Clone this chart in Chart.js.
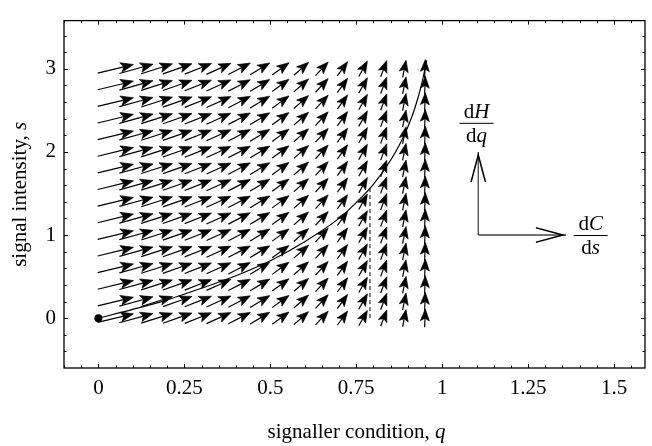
<!DOCTYPE html>
<html><head><meta charset="utf-8">
<script src="https://cdn.jsdelivr.net/npm/chart.js@4.4.1/dist/chart.umd.min.js"></script>
<style>html,body{margin:0;padding:0;background:#fff}#wrap{width:652px;height:446px;position:relative}canvas{display:block}</style>
</head><body><div id="wrap"><canvas id="c" width="652" height="446" style="width:652px;height:446px"></canvas></div>
<script>
// ---- data ----
// vector-field sample columns (signaller condition q) and rows (signal intensity s)
const fieldQ = [0.05,0.11,0.17,0.23,0.29,0.35,0.41,0.47,0.53,0.59,0.65,0.71,0.77,0.83,0.89,0.95];
const fieldS = [0,0.2,0.4,0.6,0.8,1.0,1.2,1.4,1.6,1.8,2.0,2.2,2.4,2.6,2.8,3.0];
// arrow components per column: along q (dC/ds) and along s (dH/dq), in axis units
const fieldU = [0.104,0.098,0.091,0.085,0.078,0.071,0.064,0.057,0.049,0.043,0.037,0.030,0.025,0.018,0.010,0.002];
const fieldV = [0.104,0.112,0.119,0.123,0.127,0.133,0.137,0.142,0.147,0.156,0.164,0.171,0.185,0.197,0.206,0.221];
// equilibrium signalling curve
const curveQ = [0,0.1,0.2,0.3,0.4,0.5,0.6,0.7,0.75,0.8,0.85,0.88,0.9,0.92,0.94,0.955];
const curveS = [0,0.105,0.22,0.36,0.51,0.69,0.92,1.2,1.39,1.61,1.9,2.12,2.3,2.52,2.81,3.1];
// dashed threshold line
const thresholdQ = [0.79,0.79];
const thresholdS = [0,1.56];
// starting point
const startQ = [0];
const startS = [0];
// key arrows (dH/dq up, dC/ds right)
const keyCornerQ = 1.105, keyCornerS = 1.0, keyUpS = 2.0, keyRightQ = 1.36;
// axis ticks
const xTicks = [0,0.25,0.5,0.75,1,1.25,1.5];
const xTickLabels = ["0","0.25","0.5","0.75","1","1.25","1.5"];
const yTicks = [0,1,2,3];
const yTickLabels = ["0","1","2","3"];
const xRange = [-0.1,1.59], yRange = [-0.6,3.58];
const xMinorStep = 0.05, yMinorStep = 0.2;

const FONT = "'Liberation Serif','Times New Roman',serif";

// build field points
const fieldPts = [];
fieldS.forEach(s => fieldQ.forEach((q,i) => fieldPts.push({x:q, y:s, u:fieldU[i], v:fieldV[i]})));

function drawHead(ctx, tx, ty, ang, L, W) {
  ctx.save();
  ctx.translate(tx, ty); ctx.rotate(ang);
  ctx.beginPath();
  ctx.moveTo(0,0);
  ctx.lineTo(-L, -W);
  ctx.lineTo(-0.78*L, 0);
  ctx.lineTo(-L, W);
  ctx.closePath();
  ctx.fill();
  ctx.stroke();
  ctx.restore();
}

const fieldPlugin = {
  id:'field',
  afterDatasetsDraw(chart) {
    const ctx = chart.ctx, xs = chart.scales.x, ys = chart.scales.y;
    ctx.save();
    ctx.fillStyle = '#000'; ctx.strokeStyle = '#000'; ctx.lineWidth = 1.2; ctx.lineJoin = 'round';
    fieldPts.forEach(p => {
      const x1 = xs.getPixelForValue(p.x - p.u/2), y1 = ys.getPixelForValue(p.y - p.v/2);
      const x2 = xs.getPixelForValue(p.x + p.u/2), y2 = ys.getPixelForValue(p.y + p.v/2);
      const len = Math.hypot(x2-x1, y2-y1);
      const ang = Math.atan2(y2-y1, x2-x1);
      const hl = 11 + 0.05*len;
      ctx.beginPath(); ctx.moveTo(x1,y1);
      ctx.lineTo(x2 - Math.cos(ang)*hl*0.7, y2 - Math.sin(ang)*hl*0.7); ctx.stroke();
      ctx.lineWidth = 0.6;
      drawHead(ctx, x2, y2, ang, hl, hl*0.38);
      ctx.lineWidth = 1.2;
    });
    ctx.restore();
  },
  afterDraw(chart) {
    const ctx = chart.ctx, a = chart.chartArea, xs = chart.scales.x, ys = chart.scales.y;
    ctx.save();
    ctx.strokeStyle = '#000'; ctx.lineWidth = 1.3;
    ctx.strokeRect(a.left, a.top, a.right - a.left, a.bottom - a.top);
    ctx.lineWidth = 1;
    // x ticks (bottom & top, inward)
    for (let v = Math.ceil(xRange[0]/xMinorStep)*xMinorStep; v <= xRange[1]+1e-9; v += xMinorStep) {
      const major = xTicks.some(t => Math.abs(t - v) < 1e-6);
      const px = Math.round(xs.getPixelForValue(v)) + 0.5, L = major ? 4 : 2.5;
      ctx.beginPath(); ctx.moveTo(px, a.bottom); ctx.lineTo(px, a.bottom - L);
      ctx.moveTo(px, a.top); ctx.lineTo(px, a.top + L); ctx.stroke();
    }
    for (let v = Math.ceil(yRange[0]/yMinorStep)*yMinorStep; v <= yRange[1]+1e-9; v += yMinorStep) {
      const major = yTicks.some(t => Math.abs(t - v) < 1e-6);
      const py = Math.round(ys.getPixelForValue(v)) + 0.5, L = major ? 4 : 2.5;
      ctx.beginPath(); ctx.moveTo(a.left, py); ctx.lineTo(a.left + L, py);
      ctx.moveTo(a.right, py); ctx.lineTo(a.right - L, py); ctx.stroke();
    }
    // key arrows (filled thin chevrons)
    const cx = xs.getPixelForValue(keyCornerQ), cy = ys.getPixelForValue(keyCornerS);
    const uy = ys.getPixelForValue(keyUpS), rx = xs.getPixelForValue(keyRightQ);
    ctx.fillStyle = '#000';
    function chevron(tx, ty, ang) {
      ctx.save(); ctx.translate(tx, ty); ctx.rotate(ang);
      ctx.beginPath();
      ctx.moveTo(0, 0); ctx.lineTo(-30, -8); ctx.lineTo(-30, -6.4); ctx.lineTo(-6, 0);
      ctx.lineTo(-30, 6.4); ctx.lineTo(-30, 8); ctx.closePath(); ctx.fill();
      ctx.restore();
    }
    chevron(cx, uy, -Math.PI/2);
    chevron(rx, cy, 0);
    // fractions
    function frac(xc, ybar, numA, numB, denA, denB) {
      ctx.fillStyle = '#000'; ctx.textBaseline = 'alphabetic';
      const fr = '21px ' + FONT, fi = 'italic 21px ' + FONT;
      ctx.font = fr; const wa = ctx.measureText(numA).width; ctx.font = fi; const wb = ctx.measureText(numB).width;
      let x0 = xc - (wa + wb)/2;
      ctx.font = fr; ctx.fillText(numA, x0, ybar - 5); ctx.font = fi; ctx.fillText(numB, x0 + wa, ybar - 5);
      ctx.font = fr; const wc = ctx.measureText(denA).width; ctx.font = fi; const wd = ctx.measureText(denB).width;
      x0 = xc - (wc + wd)/2;
      ctx.font = fr; ctx.fillText(denA, x0, ybar + 19); ctx.font = fi; ctx.fillText(denB, x0 + wc, ybar + 19);
      ctx.lineWidth = 1; ctx.beginPath(); ctx.moveTo(xc - 17, ybar + 0.5); ctx.lineTo(xc + 17, ybar + 0.5); ctx.stroke();
    }
    frac(xs.getPixelForValue(1.1), ys.getPixelForValue(2.35), 'd', 'H', 'd', 'q');
    frac(xs.getPixelForValue(1.432), ys.getPixelForValue(1.0), 'd', 'C', 'd', 's');
    // axis titles
    function mixed(parts, x, y) {
      let w = 0;
      parts.forEach(p => { ctx.font = p[1]; w += ctx.measureText(p[0]).width; });
      let xx = x - w/2;
      parts.forEach(p => { ctx.font = p[1]; ctx.fillText(p[0], xx, y); xx += ctx.measureText(p[0]).width; });
    }
    ctx.fillStyle = '#000'; ctx.textBaseline = 'middle';
    mixed([['signaller condition, ', '21px ' + FONT], ['q', 'italic 21px ' + FONT]], (a.left + a.right)/2 + 2, 432);
    ctx.save(); ctx.translate(20, (a.top + a.bottom)/2); ctx.rotate(-Math.PI/2);
    mixed([['signal intensity, ', '21px ' + FONT], ['s', 'italic 21px ' + FONT]], 0, 0);
    ctx.restore();
    ctx.restore();
  }
};

const zip = (xa, ya) => xa.map((x,i) => ({x, y: ya[i]}));

new Chart(document.getElementById('c'), {
  type: 'scatter',
  data: { datasets: [
    { label:'field', data: fieldPts, pointRadius:0, pointHoverRadius:0, showLine:false },
    { label:'curve', data: zip(curveQ, curveS), showLine:true, borderColor:'#000', borderWidth:1.2, pointRadius:0, cubicInterpolationMode:'monotone' },
    { label:'threshold', data: zip(thresholdQ, thresholdS), showLine:true, borderColor:'#000', borderWidth:1, borderDash:[4,3], pointRadius:0 },
    { label:'start', data: zip(startQ, startS), pointRadius:4, backgroundColor:'#000', borderColor:'#000', pointBorderWidth:0 },
    { label:'keyH', data: [{x:keyCornerQ, y:keyCornerS},{x:keyCornerQ, y:keyUpS}], showLine:true, borderColor:'#444', borderWidth:1.3, pointRadius:0 },
    { label:'keyC', data: [{x:keyCornerQ, y:keyCornerS},{x:keyRightQ, y:keyCornerS}], showLine:true, borderColor:'#444', borderWidth:1.3, pointRadius:0 }
  ]},
  options: {
    responsive:false, animation:false, devicePixelRatio:1,
    layout:{ padding:{ top:9, right:7, left:0, bottom:0 } },
    plugins:{ legend:{display:false}, tooltip:{enabled:false} },
    scales:{
      x:{ type:'linear', min:xRange[0], max:xRange[1],
        afterBuildTicks: s => { s.ticks = xTicks.map(v => ({value:v})); },
        afterFit: s => { s.height = 78; },
        ticks:{ callback:(v,i) => xTickLabels[i], color:'#000', padding:8, maxRotation:0, autoSkip:false, font:{family:FONT, size:21} },
        grid:{ display:false, drawTicks:false }, border:{ display:false } },
      y:{ type:'linear', min:yRange[0], max:yRange[1],
        afterBuildTicks: s => { s.ticks = yTicks.map(v => ({value:v})); },
        afterFit: s => { s.width = 64; },
        ticks:{ callback:(v,i) => yTickLabels[i], color:'#000', padding:8, autoSkip:false, font:{family:FONT, size:21} },
        grid:{ display:false, drawTicks:false }, border:{ display:false } }
    }
  },
  plugins:[fieldPlugin]
});
</script></body></html>
